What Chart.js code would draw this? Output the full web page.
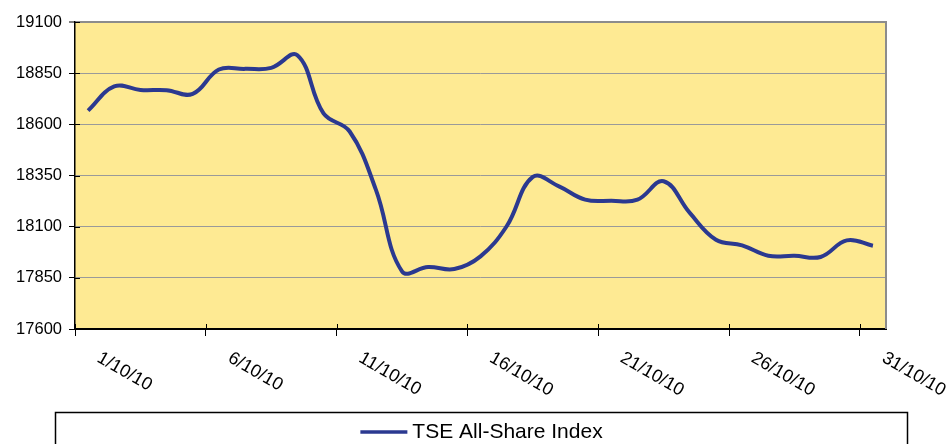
<!DOCTYPE html>
<html lang="en">
<head>
<meta charset="UTF-8" />
<title>TSE All-Share Index - October 2010</title>
<script src="https://cdn.jsdelivr.net/npm/chart.js"></script>
<style>
  html, body { margin: 0; padding: 0; background: #fff; }
  #wrap { width: 946px; height: 444px; }
</style>
</head>
<body>
<div id="wrap"><canvas id="tseChart" width="946" height="444"></canvas></div>
<script>
  // daily values, October 2010
  const days = [
    '1/10/10', '2/10/10', '3/10/10', '4/10/10', '5/10/10', '6/10/10', '7/10/10', '8/10/10',
    '9/10/10', '10/10/10', '11/10/10', '12/10/10', '13/10/10', '14/10/10', '15/10/10', '16/10/10',
    '17/10/10', '18/10/10', '19/10/10', '20/10/10', '21/10/10', '22/10/10', '23/10/10', '24/10/10',
    '25/10/10', '26/10/10', '27/10/10', '28/10/10', '29/10/10', '30/10/10', '31/10/10'
  ];
  const tseIndex = [
    18667, 18785, 18768, 18767, 18749, 18868, 18871, 18876,
    18938, 18653, 18565, 18281, 17882, 17903, 17893, 17955,
    18102, 18343, 18297, 18232, 18227, 18232, 18322, 18167,
    18036, 18009, 17958, 17958, 17952, 18033, 18007
  ];
  const yTicks = [17600, 17850, 18100, 18350, 18600, 18850, 19100];
  const seriesName = 'TSE All-Share Index';
  const labelEvery = 5;

  const FONT = '"Liberation Sans", Arial, sans-serif';
  const LINE = '#2B3990';
  const PLOT_BG = '#FEEA93';

  // yellow plot area, grey right edge, inner half of the axis ticks
  const plotArea = {
    id: 'plotArea',
    beforeDraw(chart) {
      const { ctx, chartArea: a } = chart;
      ctx.save();
      ctx.fillStyle = PLOT_BG;
      ctx.fillRect(a.left, a.top, a.right - a.left, a.bottom - a.top);
      ctx.restore();
    },
    beforeDatasetsDraw(chart) {
      const { ctx, chartArea: a } = chart;
      const xs = chart.scales.x, ys = chart.scales.y;
      ctx.save();
      ctx.strokeStyle = '#8c8c8c';
      ctx.lineWidth = 2;
      ctx.beginPath();
      ctx.moveTo(a.right, a.top - 1);
      ctx.lineTo(a.right, a.bottom);
      ctx.stroke();

      ctx.strokeStyle = '#000';
      ctx.lineWidth = 1;
      const half = (xs.getPixelForValue(1) - xs.getPixelForValue(0)) / 2;
      days.forEach((d, i) => {
        if (i % labelEvery) return;
        const x = Math.round(xs.getPixelForValue(i) - half) + 0.5;
        ctx.beginPath();
        ctx.moveTo(x, a.bottom - 5);
        ctx.lineTo(x, a.bottom);
        ctx.stroke();
      });
      yTicks.forEach(v => {
        const y = Math.round(ys.getPixelForValue(v)) + 0.5;
        ctx.beginPath();
        ctx.moveTo(a.left, y);
        ctx.lineTo(a.left + 5, y);
        ctx.stroke();
      });
      ctx.restore();
    }
  };

  // slanted date labels (text runs down to the right)
  const dateLabels = {
    id: 'dateLabels',
    afterDraw(chart) {
      const { ctx } = chart;
      const xs = chart.scales.x;
      ctx.save();
      ctx.font = '18px ' + FONT;
      ctx.fillStyle = '#000';
      ctx.textAlign = 'left';
      ctx.textBaseline = 'top';
      days.forEach((d, i) => {
        if (i % labelEvery) return;
        ctx.save();
        ctx.translate(xs.getPixelForValue(i) + 15, xs.top + 20);
        ctx.rotate(Math.PI / 6);
        ctx.fillText(d, 0, 0);
        ctx.restore();
      });
      ctx.restore();
    }
  };

  // legend inside a wide box under the axis
  const boxedLegend = {
    id: 'boxedLegend',
    afterDraw(chart) {
      const { ctx } = chart;
      const ds = chart.data.datasets[0];
      const boxL = 55.5, boxR = 907.5, boxT = 412.5, midY = 432;
      ctx.save();
      ctx.strokeStyle = '#000';
      ctx.lineWidth = 1.5;
      ctx.strokeRect(boxL, boxT, boxR - boxL, 60);

      ctx.font = '21px ' + FONT;
      const tw = ctx.measureText(ds.label).width;
      const sw = 47, gap = 5;
      const x0 = (boxL + boxR) / 2 - (sw + gap + tw) / 2;
      ctx.strokeStyle = ds.borderColor;
      ctx.lineWidth = 3.5;
      ctx.beginPath();
      ctx.moveTo(x0, midY);
      ctx.lineTo(x0 + sw, midY);
      ctx.stroke();
      ctx.fillStyle = '#000';
      ctx.textBaseline = 'middle';
      ctx.fillText(ds.label, x0 + sw + gap, midY);
      ctx.restore();
    }
  };

  new Chart(document.getElementById('tseChart'), {
    type: 'line',
    data: {
      labels: days,
      datasets: [{
        label: seriesName,
        data: tseIndex,
        borderColor: LINE,
        backgroundColor: LINE,
        borderWidth: 4,
        pointRadius: 0,
        pointHoverRadius: 0,
        tension: 0.4,
        fill: false
      }]
    },
    options: {
      responsive: false,
      animation: false,
      devicePixelRatio: 1,
      layout: { padding: { top: 22, right: 60, left: 0, bottom: 0 } },
      plugins: {
        legend: { display: false },
        tooltip: { enabled: false }
      },
      scales: {
        x: {
          type: 'category',
          offset: true,
          grid: {
            offset: true,
            drawOnChartArea: false,
            tickLength: 7,
            tickWidth: 1,
            tickColor: ctx => (ctx.index !== undefined && ctx.index % labelEvery === 0) ? '#000' : 'rgba(0,0,0,0)'
          },
          border: { color: '#000', width: 2 },
          ticks: { display: false, autoSkip: false },
          afterFit: s => { s.height = 115; }
        },
        y: {
          min: yTicks[0],
          max: yTicks[yTicks.length - 1],
          afterBuildTicks: s => { s.ticks = yTicks.map(v => ({ value: v })); },
          grid: {
            color: ctx => ctx.tick && ctx.tick.value === yTicks[0] ? '#000' : (ctx.tick && ctx.tick.value === yTicks[yTicks.length - 1] ? '#8c8c8c' : '#9a9a9a'),
            lineWidth: ctx => ctx.tick && ctx.tick.value === yTicks[yTicks.length - 1] ? 2 : 1,
            tickLength: 6,
            tickWidth: 1,
            tickColor: '#000'
          },
          border: { color: '#000', width: 1.5 },
          ticks: {
            color: '#000',
            padding: 7,
            font: { family: FONT, size: 16.5 },
            callback: v => String(v)
          },
          afterFit: s => { s.width = 75; }
        }
      }
    },
    plugins: [plotArea, dateLabels, boxedLegend]
  });
</script>
</body>
</html>
